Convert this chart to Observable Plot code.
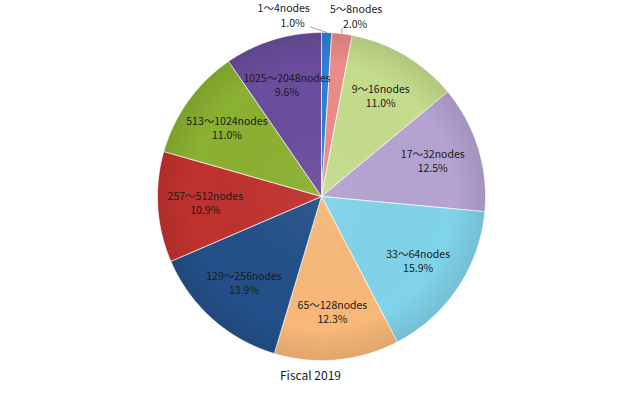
<!DOCTYPE html>
<html>
<head>
<meta charset="utf-8">
<script src="https://cdn.jsdelivr.net/npm/d3@7"></script>
<script src="https://cdn.jsdelivr.net/npm/@observablehq/plot@0.6"></script>
<style>
  html, body { margin: 0; padding: 0; background: #fff; }
  #chart svg { display: block; }
</style>
</head>
<body>
<div id="chart"></div>
<script>
const categories = ["1～4nodes", "5～8nodes", "9～16nodes", "17～32nodes", "33～64nodes",
  "65～128nodes", "129～256nodes", "257～512nodes", "513～1024nodes", "1025～2048nodes"];
const shares = [1.0, 2.0, 11.0, 12.5, 15.9, 12.3, 13.9, 10.9, 11.0, 9.6];
const sliceColors = ["#2f80d2", "#ec8c88", "#c5dc8c", "#b5a3d2", "#80d4ea",
  "#f8b878", "#23508a", "#c0322e", "#8bb131", "#6a4d9d"];
const caption = "Fiscal 2019";

const arcs = d3.pie().sort(null).value(d => d)(shares);
const slices = arcs.map((a, i) => ({
  label: categories[i],
  pct: shares[i].toFixed(1) + "%",
  color: sliceColors[i],
  start: a.startAngle,
  end: a.endAngle,
  mid: (a.startAngle + a.endAngle) / 2
}));

// polygon points for each slice, derived from the pie angles
const poly = [];
for (const s of slices) {
  poly.push({id: s.label, color: s.color, x: 0, y: 0});
  const n = Math.max(4, Math.ceil((s.end - s.start) / 0.01));
  for (let k = 0; k <= n; k++) {
    const t = s.start + (s.end - s.start) * k / n;
    poly.push({id: s.label, color: s.color, x: Math.sin(t), y: Math.cos(t)});
  }
  poly.push({id: s.label, color: s.color, x: 0, y: 0});
}

const inside = slices.filter(s => s.end - s.start > 0.15);
const outside = slices.filter(s => s.end - s.start <= 0.15);
const labelR = 0.71;
const fs = 10.5;

const font = "'Noto Sans CJK JP', 'Noto Sans', sans-serif";
const ix = d => labelR * Math.sin(d.mid);
const iy = d => labelR * Math.cos(d.mid);
const ex = d => Math.sin(d.mid);
const ey = d => Math.cos(d.mid);

const chart = Plot.plot({
  width: 640,
  height: 395,
  margin: 0,
  x: {domain: [-1, 1], range: [157, 485], axis: null},
  y: {domain: [-1, 1], range: [360, 32], axis: null},
  color: {type: "identity"},
  style: {fontFamily: font},
  marks: [
    Plot.line(poly, {x: "x", y: "y", z: "id", fill: "color", stroke: "#ffffff", strokeWidth: 1, strokeOpacity: 0.7, curve: "linear"}),
    // subtle rim shading over the pie
    Plot.dot([0], {x: () => 0, y: () => 0, r: 164, fill: "url(#rimShade)", stroke: "none"}),
    Plot.text(inside, {x: ix, y: iy, text: "label", dy: -7, fontSize: fs, fill: "#1a1a1a"}),
    Plot.text(inside, {x: ix, y: iy, text: "pct", dy: 7, fontSize: fs, fill: "#1a1a1a"}),
    // leader lines and outside labels for the thin slices
    Plot.link(outside.slice(0, 1), {
      x1: ex, y1: ey, x2: d => ex(d) - 0.1, y2: d => ey(d) * 1.035,
      stroke: "#a0a0a0", strokeWidth: 1
    }),
    Plot.link(outside.slice(1, 2), {
      x1: ex, y1: ey, x2: ex, y2: d => ey(d) * 1.035,
      stroke: "#a0a0a0", strokeWidth: 1
    }),
    Plot.text(outside.slice(0, 1), {x: ex, y: ey, text: "label", dx: -43, dy: -24, fontSize: fs, fill: "#1a1a1a"}),
    Plot.text(outside.slice(0, 1), {x: ex, y: ey, text: "pct", dx: -34, dy: -9, fontSize: fs, fill: "#1a1a1a"}),
    Plot.text(outside.slice(1, 2), {x: ex, y: ey, text: "label", dx: 14, dy: -24, fontSize: fs, fill: "#1a1a1a"}),
    Plot.text(outside.slice(1, 2), {x: ex, y: ey, text: "pct", dx: 13, dy: -9, fontSize: fs, fill: "#1a1a1a"}),
    Plot.text([caption], {
      text: d => d, frameAnchor: "bottom", dx: -10, dy: -19, lineAnchor: "middle",
      fontSize: 12, fill: "#1a1a1a"
    })
  ]
});
const defs = d3.select(chart).insert("defs", ":first-child");
const g = defs.append("radialGradient").attr("id", "rimShade");
g.append("stop").attr("offset", "0%").attr("stop-color", "#ffffff").attr("stop-opacity", 0.06);
g.append("stop").attr("offset", "80%").attr("stop-color", "#000000").attr("stop-opacity", 0);
g.append("stop").attr("offset", "100%").attr("stop-color", "#000000").attr("stop-opacity", 0.1);
document.getElementById("chart").appendChild(chart);
</script>
</body>
</html>
